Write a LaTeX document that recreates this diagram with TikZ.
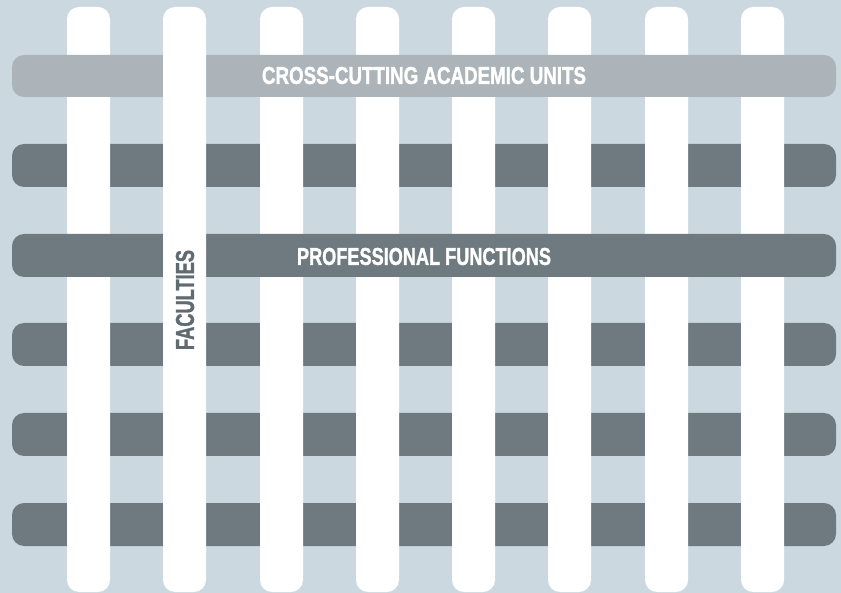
\documentclass[tikz,border=0pt]{standalone}
\usepackage{fontspec}
\setmainfont{Liberation Sans}
\newfontfamily\heavyfont{Liberation Sans}[BoldFeatures={FakeBold=1.6}]
\usepackage{graphicx}
\definecolor{bgblue}{HTML}{CBD8E0}
\definecolor{lightbar}{HTML}{ACB4BA}
\definecolor{darkbar}{HTML}{6E7A80}
\definecolor{facultytext}{HTML}{606B71}
\begin{document}
\begin{tikzpicture}[x=1pt,y=-1pt,
  vbar/.style={fill=white, rounded corners=12pt},
  hbar/.style={fill=darkbar, rounded corners=12pt},
  topbar/.style={fill=lightbar, rounded corners=12pt},
  label/.style={inner sep=0pt, text=white, font=\heavyfont\bfseries}]
\fill[bgblue] (0,0) rectangle (841,593);
\useasboundingbox (0,0) rectangle (841,593);
% dark horizontal bars under the faculties
\foreach \t in {144,323,413,503}
  \fill[hbar] (12,\t) rectangle (836,\t+43);
% vertical faculty bars (except the labelled one)
\foreach \l in {67,260,356,452,548,645,741}
  \fill[vbar] (\l,7) rectangle (\l+43,592);
% bars lying over the faculties
\fill[topbar] (12,55) rectangle (836,97);
\fill[hbar] (12,234) rectangle (836,277);
% labelled faculty bar on top
\fill[vbar] (163,7) rectangle (206,592);
% texts
\node[label] (cross) at (424,75.5) {\resizebox{324pt}{17pt}{CROSS-CUTTING ACADEMIC UNITS}};
\node[label] (prof) at (424,256.5) {\resizebox{254pt}{17pt}{PROFESSIONAL FUNCTIONS}};
\node[label, text=facultytext, rotate=90] (fac) at (185,300) {\resizebox{100pt}{18pt}{FACULTIES}};
\end{tikzpicture}
\end{document}
